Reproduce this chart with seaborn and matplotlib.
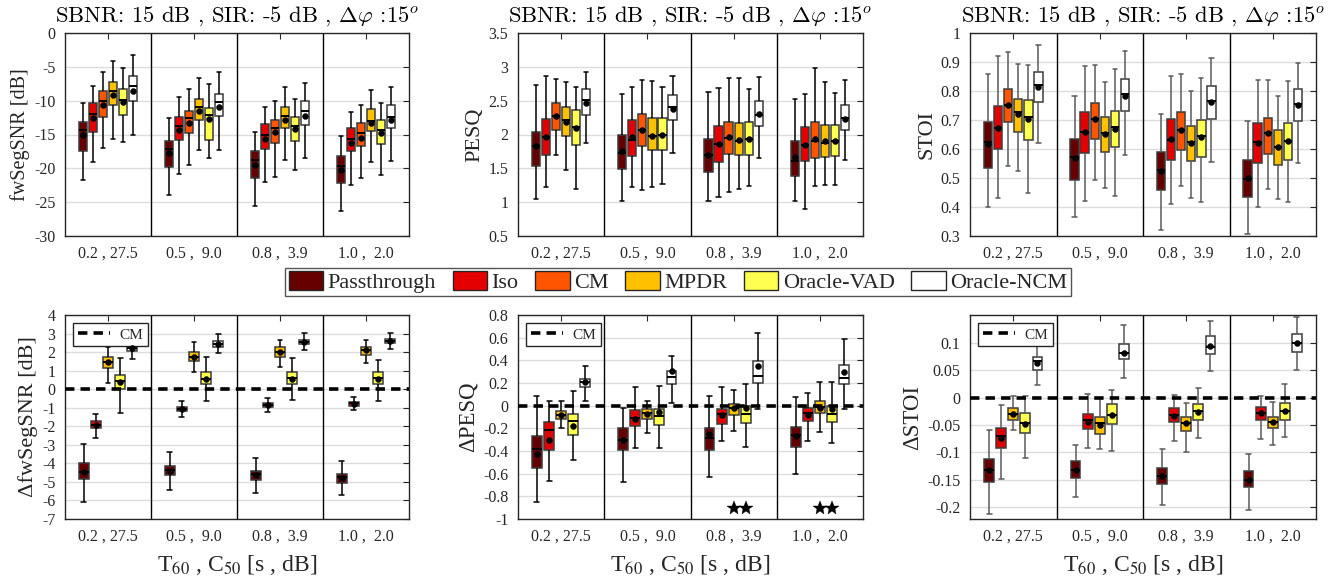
import numpy as np
import pandas as pd
import matplotlib
matplotlib.use("Agg")
import matplotlib.pyplot as plt
from matplotlib.patches import Patch
from matplotlib.lines import Line2D
from matplotlib.ticker import FuncFormatter
import seaborn as sns

# ---------------- data ----------------
CONDITIONS = ["0.2 , 27.5", "0.5 ,  9.0", "0.8 ,  3.9", "1.0 ,  2.0"]
METHODS = ["Passthrough", "Iso", "CM", "MPDR", "Oracle-VAD", "Oracle-NCM"]
DELTA_METHODS = ["Passthrough", "Iso", "MPDR", "Oracle-VAD", "Oracle-NCM"]
COLORS = ["#660000", "#E50000", "#FF5500", "#FFC000", "#FFFF50", "#FFFFFF"]

# fwSegSNR [dB]  rows = conditions, columns = METHODS
fw_lo = [[-21.7, -19.1, -17.0, -15.6, -16.1, -15.0],
         [-24.0, -20.8, -19.5, -17.3, -18.5, -17.3],
         [-25.5, -22.0, -21.3, -18.7, -20.3, -18.4],
         [-26.3, -22.5, -21.5, -19.1, -21.0, -18.9]]
fw_q1 = [[-17.5, -14.7, -12.4, -10.7, -12.1, -10.1],
         [-19.8, -15.8, -14.8, -12.9, -15.8, -12.3],
         [-21.5, -17.1, -16.3, -14.1, -15.9, -13.6],
         [-22.1, -17.5, -16.7, -14.5, -16.4, -14.1]]
fw_med = [[-14.3, -12.0, -10.0, -8.5, -9.9, -7.9],
          [-17.2, -13.7, -12.6, -10.9, -12.1, -10.2],
          [-18.8, -15.0, -14.1, -12.3, -13.7, -11.6],
          [-19.7, -15.7, -14.8, -13.0, -14.4, -12.4]]
fw_q3 = [[-13.2, -10.4, -8.6, -7.2, -8.3, -6.4],
         [-16.0, -12.4, -11.5, -9.7, -11.1, -9.0],
         [-17.4, -13.5, -12.8, -10.9, -12.4, -10.1],
         [-18.2, -14.1, -13.3, -11.2, -12.9, -10.7]]
fw_hi = [[-10.4, -7.9, -5.7, -4.1, -5.1, -3.3],
         [-12.6, -9.4, -8.3, -6.7, -7.6, -5.8],
         [-14.7, -11.0, -10.1, -8.0, -9.7, -7.4],
         [-15.2, -11.7, -10.7, -8.4, -10.3, -8.0]]
fw_mean = [[-15.1, -12.5, -10.6, -9.2, -10.2, -8.5],
           [-17.7, -14.3, -13.3, -11.5, -12.7, -10.9],
           [-19.5, -15.6, -14.7, -12.8, -14.2, -12.2],
           [-20.2, -16.2, -15.5, -13.3, -14.8, -12.8]]

# PESQ
pesq_lo = [[1.05, 1.22, 1.69, 1.48, 1.20, 1.88],
           [1.01, 1.23, 1.18, 1.22, 1.27, 1.72],
           [1.01, 1.08, 1.15, 1.19, 1.24, 1.66],
           [1.02, 0.90, 1.24, 1.25, 1.25, 1.62]]
pesq_q1 = [[1.54, 1.69, 2.06, 1.98, 1.84, 2.29],
           [1.49, 1.68, 1.83, 1.77, 1.77, 2.22],
           [1.44, 1.59, 1.71, 1.69, 1.69, 2.13],
           [1.39, 1.61, 1.65, 1.67, 1.68, 2.07]]
pesq_med = [[1.83, 1.96, 2.28, 2.21, 2.11, 2.51],
            [1.73, 1.92, 2.06, 1.98, 2.00, 2.40],
            [1.69, 1.86, 1.95, 1.90, 1.93, 2.29],
            [1.61, 1.84, 1.90, 1.88, 1.90, 2.24]]
pesq_q3 = [[2.04, 2.23, 2.46, 2.40, 2.36, 2.67],
           [1.99, 2.21, 2.31, 2.25, 2.25, 2.58],
           [1.93, 2.13, 2.18, 2.17, 2.18, 2.49],
           [1.90, 2.11, 2.18, 2.14, 2.14, 2.43]]
pesq_hi = [[2.73, 2.86, 2.82, 2.77, 2.70, 2.92],
           [2.60, 2.70, 2.80, 2.79, 2.70, 2.87],
           [2.63, 2.68, 2.83, 2.84, 2.67, 2.85],
           [2.52, 2.60, 2.98, 2.77, 2.62, 2.80]]
pesq_mean = [[1.83, 1.96, 2.27, 2.18, 2.09, 2.47],
             [1.75, 1.96, 2.06, 1.98, 2.00, 2.37],
             [1.69, 1.86, 1.96, 1.92, 1.93, 2.30],
             [1.67, 1.84, 1.93, 1.91, 1.91, 2.23]]

# STOI
stoi_lo = [[0.400, 0.432, 0.541, 0.524, 0.448, 0.621],
           [0.365, 0.421, 0.492, 0.464, 0.438, 0.578],
           [0.322, 0.411, 0.472, 0.430, 0.416, 0.555],
           [0.307, 0.400, 0.462, 0.427, 0.416, 0.552]]
stoi_q1 = [[0.536, 0.601, 0.692, 0.658, 0.630, 0.763],
           [0.493, 0.587, 0.635, 0.590, 0.606, 0.732],
           [0.457, 0.563, 0.598, 0.559, 0.574, 0.705],
           [0.434, 0.551, 0.583, 0.545, 0.563, 0.696]]
stoi_med = [[0.625, 0.674, 0.752, 0.727, 0.709, 0.820],
            [0.571, 0.658, 0.702, 0.654, 0.677, 0.790],
            [0.527, 0.631, 0.667, 0.624, 0.646, 0.766],
            [0.496, 0.624, 0.654, 0.608, 0.629, 0.755]]
stoi_q3 = [[0.693, 0.747, 0.807, 0.772, 0.768, 0.864],
           [0.633, 0.727, 0.759, 0.709, 0.732, 0.840],
           [0.588, 0.704, 0.728, 0.680, 0.701, 0.818],
           [0.563, 0.690, 0.706, 0.666, 0.688, 0.807]]
stoi_hi = [[0.859, 0.919, 0.933, 0.893, 0.889, 0.958],
           [0.784, 0.886, 0.891, 0.831, 0.876, 0.937],
           [0.720, 0.852, 0.858, 0.800, 0.845, 0.913],
           [0.697, 0.837, 0.839, 0.783, 0.834, 0.898]]
stoi_mean = [[0.618, 0.674, 0.751, 0.721, 0.702, 0.814],
             [0.570, 0.657, 0.702, 0.653, 0.670, 0.784],
             [0.524, 0.634, 0.667, 0.622, 0.640, 0.763],
             [0.500, 0.622, 0.654, 0.607, 0.627, 0.751]]

# Delta fwSegSNR [dB] (relative to CM), columns = DELTA_METHODS
dfw_lo = [[-6.06, -2.65, 0.32, -1.27, 1.64],
          [-5.41, -1.52, 0.92, -0.62, 1.94],
          [-5.58, -1.23, 1.17, -0.58, 2.09],
          [-5.68, -1.14, 1.40, -0.62, 2.16]]
dfw_q1 = [[-4.87, -2.11, 1.13, 0.00, 2.07],
          [-4.64, -1.18, 1.53, 0.29, 2.29],
          [-4.91, -0.98, 1.76, 0.27, 2.41],
          [-5.05, -0.89, 1.85, 0.29, 2.47]]
dfw_med = [[-4.44, -1.92, 1.48, 0.45, 2.20],
           [-4.37, -1.05, 1.73, 0.57, 2.45],
           [-4.60, -0.83, 2.00, 0.59, 2.54],
           [-4.73, -0.76, 2.09, 0.59, 2.59]]
dfw_q3 = [[-3.97, -1.73, 1.76, 0.79, 2.30],
          [-4.13, -0.94, 2.00, 0.90, 2.58],
          [-4.42, -0.72, 2.25, 0.92, 2.67],
          [-4.55, -0.67, 2.30, 0.92, 2.70]]
dfw_hi = [[-2.93, -1.32, 2.30, 1.66, 2.90],
          [-3.41, -0.65, 2.52, 1.71, 2.99],
          [-3.70, -0.45, 2.67, 1.66, 3.01],
          [-3.86, -0.44, 2.67, 1.58, 3.03]]
dfw_mean = [[-4.44, -1.92, 1.48, 0.39, 2.20],
            [-4.40, -1.05, 1.73, 0.56, 2.45],
            [-4.64, -0.85, 1.98, 0.57, 2.54],
            [-4.78, -0.78, 2.09, 0.57, 2.59]]

# Delta PESQ
dpesq_lo = [[-0.852, -0.661, -0.200, -0.475, 0.042],
            [-0.672, -0.371, -0.245, -0.377, 0.027],
            [-0.628, -0.309, -0.221, -0.363, -0.029],
            [-0.605, -0.312, -0.233, -0.333, -0.029]]
dpesq_q1 = [[-0.549, -0.395, -0.115, -0.259, 0.163],
            [-0.395, -0.180, -0.120, -0.174, 0.189],
            [-0.389, -0.159, -0.082, -0.156, 0.198],
            [-0.368, -0.138, -0.068, -0.144, 0.189]]
dpesq_med = [[-0.386, -0.218, -0.082, -0.132, 0.207],
             [-0.307, -0.106, -0.067, -0.091, 0.251],
             [-0.283, -0.076, -0.018, -0.073, 0.260],
             [-0.256, -0.068, -0.009, -0.077, 0.245]]
dpesq_q3 = [[-0.268, -0.144, -0.044, -0.070, 0.239],
            [-0.200, -0.038, -0.032, -0.026, 0.304],
            [-0.197, -0.029, 0.012, -0.003, 0.396],
            [-0.191, -0.020, 0.045, -0.003, 0.363]]
dpesq_hi = [[0.083, 0.045, 0.045, 0.127, 0.346],
            [-0.020, 0.163, 0.040, 0.174, 0.434],
            [0.086, 0.166, 0.139, 0.190, 0.641],
            [0.074, 0.109, 0.207, 0.210, 0.588]]
dpesq_mean = [[-0.428, -0.304, -0.085, -0.177, 0.207],
              [-0.307, -0.115, -0.070, -0.059, 0.307],
              [-0.250, -0.082, -0.023, -0.023, 0.346],
              [-0.268, -0.085, -0.023, -0.026, 0.301]]

# Delta STOI
dstoi_lo = [[-0.212, -0.148, -0.060, -0.111, 0.023],
            [-0.182, -0.092, -0.094, -0.097, 0.036],
            [-0.196, -0.080, -0.099, -0.074, 0.048],
            [-0.206, -0.076, -0.087, -0.072, 0.051]]
dstoi_q1 = [[-0.154, -0.093, -0.041, -0.064, 0.050],
            [-0.147, -0.057, -0.066, -0.049, 0.070],
            [-0.158, -0.044, -0.061, -0.041, 0.080],
            [-0.164, -0.041, -0.056, -0.041, 0.084]]
dstoi_med = [[-0.132, -0.070, -0.030, -0.047, 0.066],
             [-0.132, -0.041, -0.047, -0.031, 0.082],
             [-0.144, -0.032, -0.047, -0.025, 0.093],
             [-0.150, -0.028, -0.045, -0.025, 0.099]]
dstoi_q3 = [[-0.112, -0.056, -0.019, -0.028, 0.075],
            [-0.116, -0.030, -0.036, -0.011, 0.098],
            [-0.129, -0.019, -0.036, -0.012, 0.112],
            [-0.135, -0.018, -0.035, -0.010, 0.116]]
dstoi_hi = [[-0.059, -0.014, 0.002, 0.002, 0.105],
            [-0.086, 0.007, 0.000, 0.013, 0.132],
            [-0.094, 0.004, -0.010, 0.017, 0.140],
            [-0.103, 0.003, -0.008, 0.025, 0.147]]
dstoi_mean = [[-0.132, -0.074, -0.030, -0.048, 0.063],
              [-0.132, -0.044, -0.050, -0.031, 0.082],
              [-0.144, -0.033, -0.047, -0.027, 0.095],
              [-0.151, -0.029, -0.045, -0.025, 0.099]]

# significance stars in the Delta PESQ panel
star_conditions = ["0.8 ,  3.9", "0.8 ,  3.9", "1.0 ,  2.0", "1.0 ,  2.0"]
star_methods = ["MPDR", "Oracle-VAD", "MPDR", "Oracle-VAD"]
star_values = [-0.9, -0.9, -0.9, -0.9]

TITLE = r"SBNR: 15 dB , SIR: -5 dB , $\Delta\varphi$ :15$^o$"
XLABEL = r"T$_{60}$ , C$_{50}$ [s , dB]"

# ---------------- style ----------------
sns.set_style("white")
plt.rcParams["font.family"] = ["Liberation Serif", "DejaVu Serif"]
plt.rcParams["mathtext.fontset"] = "stix"
plt.rcParams["axes.unicode_minus"] = False

COLOR_OF = dict(zip(METHODS, COLORS))
BOX_WIDTH = 0.70
TXT = "#262626"

fig = plt.figure(figsize=(13.44, 5.82), dpi=100)
W, H = 1344.0, 582.0
cols_px = [(65, 409), (518, 863), (970, 1316)]
rows_px = [(33, 236), (315, 519)]


def make_axes(r, c):
    x0, x1 = cols_px[c]
    y0, y1 = rows_px[r]
    return fig.add_axes([x0 / W, 1 - y1 / H, (x1 - x0) / W, (y1 - y0) / H])


fmt = FuncFormatter(lambda v, p: "0" if abs(v) < 1e-9 else f"{v:g}")


def draw_panel(ax, stats, methods, ylim, yticks, ylabel, ylabel_size,
               whisker_color, title=None, xlabel=None, delta=False,
               stars=None):
    lo, q1, med, q3, hi, mean = stats
    rows = []
    for gi, cond in enumerate(CONDITIONS):
        for mi, m in enumerate(methods):
            for v in (lo[gi][mi], q1[gi][mi], med[gi][mi], q3[gi][mi], hi[gi][mi]):
                rows.append((cond, m, v))
    df = pd.DataFrame(rows, columns=["cond", "method", "value"])
    mdf = pd.DataFrame([(cond, m, mean[gi][mi])
                        for gi, cond in enumerate(CONDITIONS)
                        for mi, m in enumerate(methods)],
                       columns=["cond", "method", "value"])
    pal = {m: COLOR_OF[m] for m in methods}
    n = len(methods)

    sns.boxplot(data=df, x="cond", y="value", hue="method",
                order=CONDITIONS, hue_order=methods, palette=pal,
                saturation=1, width=BOX_WIDTH, gap=0.18, whis=(0, 100),
                showfliers=False, linecolor="#3c3c3c", linewidth=1.1,
                whiskerprops=dict(color=whisker_color, linewidth=1.1),
                capprops=dict(color=whisker_color, linewidth=1.1),
                medianprops=dict(color="black", linewidth=1.4),
                legend=False, ax=ax)
    sns.pointplot(data=mdf, x="cond", y="value", hue="method",
                  order=CONDITIONS, hue_order=methods,
                  palette={m: "black" for m in methods},
                  dodge=BOX_WIDTH * (n - 1) / n, linestyle="none",
                  markers="o", markersize=4.3, markeredgewidth=0.3,
                  errorbar=None, legend=False, ax=ax, zorder=6)
    if stars is not None:
        sdf = pd.DataFrame({"cond": stars[0], "method": stars[1],
                            "value": stars[2]})
        sns.pointplot(data=sdf, x="cond", y="value", hue="method",
                      order=CONDITIONS, hue_order=methods,
                      palette={m: "black" for m in methods},
                      dodge=BOX_WIDTH * (n - 1) / n, linestyle="none",
                      markers="*", markersize=10, markeredgewidth=0.3,
                      errorbar=None, legend=False, ax=ax, zorder=6)

    for xv in (0.5, 1.5, 2.5):
        ax.axvline(xv, color="black", lw=1.0, zorder=1)
    ax.set_axisbelow(True)
    ax.yaxis.grid(True, color="#dcdcdc", lw=1.0)
    ax.xaxis.grid(False)
    ax.set_xlim(-0.5, 3.5)
    ax.set_ylim(*ylim)
    ax.set_yticks(yticks)
    ax.yaxis.set_major_formatter(fmt)
    ax.set_xticks(range(len(CONDITIONS)))
    ax.set_xticklabels(CONDITIONS)
    ax.tick_params(axis="both", direction="in", length=4, width=0.8,
                   top=True, right=True, labelsize=11.5, colors=TXT,
                   pad=7)
    for s in ax.spines.values():
        s.set_color("#262626")
        s.set_linewidth(1.0)
    ax.set_ylabel(ylabel, fontsize=ylabel_size, color=TXT, labelpad=3)
    if xlabel:
        ax.set_xlabel(xlabel, fontsize=17, color=TXT, labelpad=6)
    else:
        ax.set_xlabel("")
    if title:
        ax.set_title(title, fontsize=16.3, color="black", pad=8,
                     fontfamily="cmr10", math_fontfamily="cm")
    if delta:
        ax.axhline(0, color="black", lw=2.6, ls=(0, (2.6, 1.7)), zorder=4)
        h = [Line2D([], [], color="black", lw=2.6, ls=(0, (2.6, 1.7)))]
        ax.legend(h, ["CM"], loc="upper left", fontsize=11, frameon=True,
                  fancybox=False, edgecolor="#262626", framealpha=1,
                  handlelength=2.1, handletextpad=0.6, borderaxespad=0.55,
                  borderpad=0.3)


ax = make_axes(0, 0)
draw_panel(ax, (fw_lo, fw_q1, fw_med, fw_q3, fw_hi, fw_mean), METHODS,
           (-30, 0), np.arange(-30, 1, 5), "fwSegSNR [dB]", 14.5, "black",
           title=TITLE)
ax = make_axes(0, 1)
draw_panel(ax, (pesq_lo, pesq_q1, pesq_med, pesq_q3, pesq_hi, pesq_mean),
           METHODS, (0.5, 3.5), np.arange(0.5, 3.51, 0.5), "PESQ", 16,
           "black", title=TITLE)
ax = make_axes(0, 2)
draw_panel(ax, (stoi_lo, stoi_q1, stoi_med, stoi_q3, stoi_hi, stoi_mean),
           METHODS, (0.3, 1.0), np.arange(0.3, 1.001, 0.1), "STOI", 16,
           "#5a5a5a", title=TITLE)
ax = make_axes(1, 0)
draw_panel(ax, (dfw_lo, dfw_q1, dfw_med, dfw_q3, dfw_hi, dfw_mean),
           DELTA_METHODS, (-7, 4), np.arange(-7, 4.1, 1),
           "ΔfwSegSNR [dB]", 16, "black", xlabel=XLABEL, delta=True)
ax = make_axes(1, 1)
draw_panel(ax, (dpesq_lo, dpesq_q1, dpesq_med, dpesq_q3, dpesq_hi, dpesq_mean),
           DELTA_METHODS, (-1, 0.8), np.arange(-1, 0.81, 0.2),
           "ΔPESQ", 16.5, "black", xlabel=XLABEL, delta=True,
           stars=(star_conditions, star_methods, star_values))
ax = make_axes(1, 2)
draw_panel(ax, (dstoi_lo, dstoi_q1, dstoi_med, dstoi_q3, dstoi_hi, dstoi_mean),
           DELTA_METHODS, (-0.222, 0.151), np.arange(-0.2, 0.101, 0.05),
           "ΔSTOI", 16.5, "#5a5a5a", xlabel=XLABEL, delta=True)

handles = [Patch(facecolor=c, edgecolor="#262626", lw=1.0) for c in COLORS]
fig.legend(handles, METHODS, loc="center", bbox_to_anchor=(678 / W, 1 - 282 / H),
           ncol=6, fontsize=16, frameon=True, fancybox=False,
           edgecolor="#555555", framealpha=1, handlelength=1.55,
           handleheight=0.9, handletextpad=0.2, columnspacing=0.75,
           borderpad=0.15, borderaxespad=0)

fig.savefig("out.png", dpi=100)
